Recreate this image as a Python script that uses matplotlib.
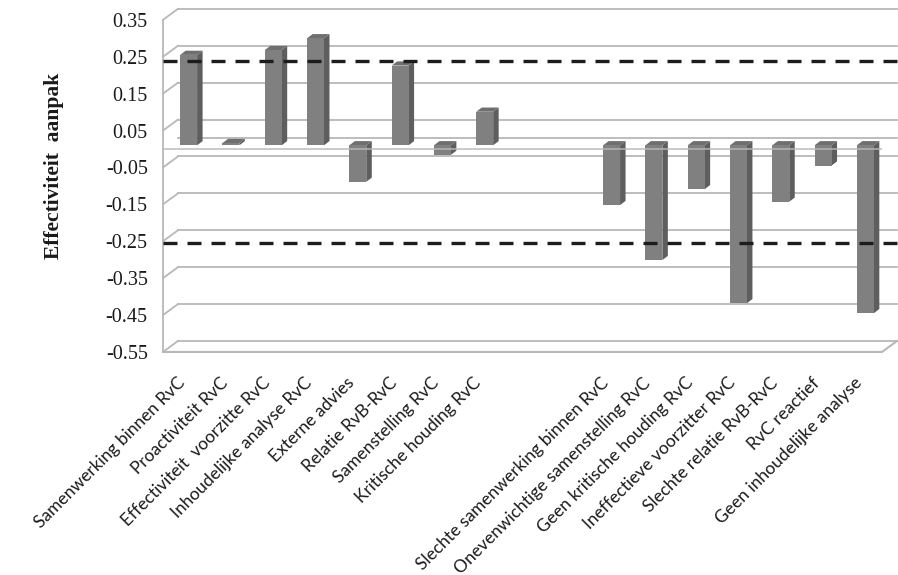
import matplotlib
matplotlib.use("Agg")
import matplotlib.pyplot as plt
from matplotlib.patches import Polygon, Rectangle
from matplotlib.transforms import ScaledTranslation

# factors that help (left group) and hurt (right group) the approach
positive_factors = [
    "Samenwerking binnen RvC",
    "Proactiviteit RvC",
    "Effectiviteit  voorzitte RvC",
    "Inhoudelijke analyse RvC",
    "Externe advies",
    "Relatie RvB-RvC",
    "Samenstelling RvC",
    "Kritische houding RvC",
]
positive_values = [0.245, 0.006, 0.258, 0.290, -0.099, 0.216, -0.026, 0.091]

negative_factors = [
    "Slechte samenwerking binnen RvC",
    "Onevenwichtige samenstelling RvC",
    "Geen kritische houding RvC",
    "Ineffectieve voorzitter RvC",
    "Slechte relatie RvB-RvC",
    "RvC reactief",
    "Geen inhoudelijke analyse",
]
negative_values = [-0.162, -0.311, -0.119, -0.428, -0.153, -0.055, -0.455]

y_ticks = [0.35, 0.25, 0.15, 0.05, -0.05, -0.15, -0.25, -0.35, -0.45, -0.55]
thresholds = [0.238, -0.255]

GAP_SLOTS = 2
Y_MIN, Y_MAX = -0.55, 0.35

GRID = "#b8b8b8"
FRONT = "#808080"
SIDE = "#5e5e5e"
TOP = "#6f6f6f"
TEXT = "#1a1a1a"

labels = positive_factors + [""] * GAP_SLOTS + negative_factors
values = positive_values + [None] * GAP_SLOTS + negative_values
n_slots = len(labels)
x0, x1 = -0.5, n_slots - 0.5

fig = plt.figure(figsize=(8.98, 5.75), dpi=100)
ax = fig.add_axes([0.1815, 0.3879, 0.8007, 0.5776])
ax.set_xlim(x0, x1)
ax.set_ylim(Y_MIN, Y_MAX)

# pixel -> data conversion so the 3D depth can be given in pixels
ax_w = 0.8007 * 898
ax_h = 0.5776 * 575
sx = (x1 - x0) / ax_w
sy = (Y_MAX - Y_MIN) / ax_h


def px(dx, dy):
    return dx * sx, dy * sy


back_dx, back_dy = px(15, 11)     # back wall offset
bar_dx, bar_dy = px(4.5, 3.7)     # front face of the columns
dep_dx, dep_dy = px(5.5, 4.2)     # column depth

# back wall + left wall gridlines
for v in y_ticks:
    ax.plot([x0 + back_dx, x1 + back_dx], [v + back_dy, v + back_dy],
            color=GRID, lw=1.3, clip_on=False, zorder=1)
    ax.plot([x0, x0 + back_dx], [v, v + back_dy],
            color=GRID, lw=1.3, clip_on=False, zorder=1)

# bottom floor outline
ax.plot([x0, x1, x1 + back_dx], [Y_MIN, Y_MIN, Y_MIN + back_dy],
        color=GRID, lw=1.5, clip_on=False, zorder=1)
# zero plane back edge
ax.plot([x0 + back_dx, x1 + back_dx], [back_dy, back_dy],
        color=GRID, lw=1.3, clip_on=False, zorder=1)

# columns
w = 0.40
for s, v in enumerate(values):
    if v is None:
        continue
    left = s - w / 2 + bar_dx
    right = s + w / 2 + bar_dx
    base = bar_dy
    top = max(v, 0) + bar_dy
    ax.add_patch(Polygon([(right, base), (right, v + base),
                          (right + dep_dx, v + base + dep_dy),
                          (right + dep_dx, base + dep_dy)],
                         closed=True, facecolor=SIDE, edgecolor="none",
                         zorder=3, clip_on=False))
    ax.add_patch(Polygon([(left, top), (right, top),
                          (right + dep_dx, top + dep_dy),
                          (left + dep_dx, top + dep_dy)],
                         closed=True, facecolor=TOP, edgecolor="none",
                         zorder=3, clip_on=False))
    ax.add_patch(Rectangle((left, base), w, v, facecolor=FRONT,
                           edgecolor="none", zorder=3, clip_on=False))

# zero plane front edge
ax.plot([x0, x1], [0, 0], color=GRID, lw=1.3, alpha=0.8, zorder=4)

# threshold lines
for t in thresholds:
    ax.plot([x0, x1 + px(17, 0)[0]], [t, t], color="#1c1c1c", lw=2.4,
            linestyle=(0, (4.2, 3.0)), clip_on=False, zorder=5)

# axes dressing
for side in ["top", "right", "bottom"]:
    ax.spines[side].set_visible(False)
ax.spines["left"].set_color(GRID)
ax.spines["left"].set_linewidth(1.3)

ax.set_yticks(y_ticks)
ax.set_yticklabels([f"{v:.2f}" for v in y_ticks], fontfamily="Liberation Serif",
                   fontsize=14.5, color=TEXT)
ax.tick_params(axis="y", length=0, pad=11)

ax.set_xticks(range(n_slots))
ax.set_xticklabels(labels, rotation=45, ha="right", va="top",
                   rotation_mode="anchor", fontfamily="Lato",
                   fontsize=12.5, color=TEXT)
ax.tick_params(axis="x", length=0, pad=15)
shift = ScaledTranslation(-7 / 100, -2 / 100, fig.dpi_scale_trans)
for lbl in ax.get_xticklabels():
    lbl.set_transform(lbl.get_transform() + shift)

ax.set_ylabel("Effectiviteit  aanpak", fontfamily="Liberation Serif",
              fontweight="bold", fontsize=15.5, color=TEXT)
ax.yaxis.set_label_coords(-0.138, 0.56)

ax.set_facecolor("none")
fig.savefig("out.png", dpi=100, facecolor="white")
